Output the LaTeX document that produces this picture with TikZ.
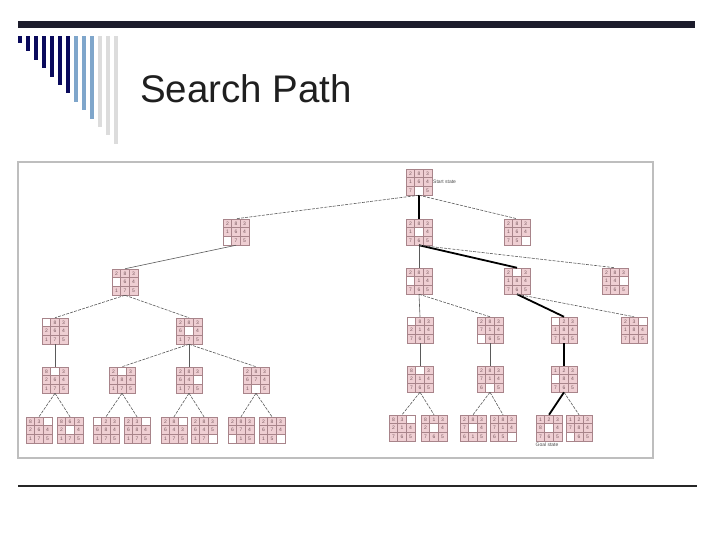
\documentclass[tikz,border=0pt]{standalone}
\usepackage{fontspec}
\setmainfont{Liberation Sans}
\definecolor{topbar}{HTML}{1C1C2C}
\definecolor{navy}{HTML}{0A0A5C}
\definecolor{lblue}{HTML}{7FA6CB}
\definecolor{lgray}{HTML}{DCDCDC}
\definecolor{framec}{HTML}{BEBEBE}
\definecolor{cellfill}{HTML}{EFCFD3}
\definecolor{cellline}{HTML}{A8848A}
\definecolor{celltext}{HTML}{7A5A60}
\definecolor{edgec}{HTML}{5A5A5A}
\tikzset{
 cell/.style={draw=cellline, fill=cellfill, minimum size=8.6pt, inner sep=0pt, line width=0.5pt, text=celltext, font=\fontsize{5}{5}\selectfont},
 blankcell/.style={cell, fill=white},
 puzbox/.style={draw=cellline, minimum size=25.8pt, inner sep=0pt, line width=0.7pt},
 tree/.style={draw=edgec, line width=0.6pt, dash pattern=on 3pt off 1.2pt},
 treev/.style={draw=edgec, line width=0.6pt},
 pathedge/.style={draw=black, line width=1.8pt},
 note/.style={font=\fontsize{5}{6}\selectfont, text=black!70, inner sep=0pt},
}
\newcommand\pz[3]{%
 \begin{scope}[shift={(#2)}]
  \foreach \v [count=\k from 0] in {#3} {
   \pgfmathtruncatemacro\rr{\k/3}
   \pgfmathtruncatemacro\cc{mod(\k,3)}
   \ifnum\v=0
     \node[blankcell] (#1-\k) at ({(\cc-1)*8.6},{(\rr-1)*8.6}) {};
   \else
     \node[cell] (#1-\k) at ({(\cc-1)*8.6},{(\rr-1)*8.6}) {\v};
   \fi
  }
  \node[puzbox] (#1) at (0,0) {};
 \end{scope}}
\begin{document}
\begin{tikzpicture}[x=1pt,y=-1pt]
\useasboundingbox (0,0) rectangle (720,540);
% slide decoration
\fill[topbar] (18,21) rectangle (695,28);
\foreach \i in {0,...,12} {
  \pgfmathsetmacro\bx{20+8*\i}
  \pgfmathsetmacro\by{43+8.4*\i}
  \ifnum\i<7 \def\bc{navy}\else\ifnum\i<10 \def\bc{lblue}\else\def\bc{lgray}\fi\fi
  \fill[\bc] ({\bx-2},36) rectangle ({\bx+2},\by);
}
\node[anchor=base west, font=\fontsize{38.5}{40}\selectfont, text=black!88, inner sep=0pt] (title) at (140,103) {Search Path};
\draw[line width=1.8pt, black!85] (18,486) -- (697,486);
% picture frame
\draw[framec, line width=1.4pt] (18,162) rectangle (653,458);
% puzzle states
\pz{s}{419,182}{2,8,3,1,6,4,7,0,5}
\pz{a1}{236,232}{2,8,3,1,6,4,0,7,5}
\pz{a2}{419,232}{2,8,3,1,0,4,7,6,5}
\pz{a3}{517,232}{2,8,3,1,6,4,7,5,0}
\pz{b1}{125,282}{2,8,3,0,6,4,1,7,5}
\pz{b2}{419,281}{2,8,3,0,1,4,7,6,5}
\pz{b3}{517,281}{2,0,3,1,8,4,7,6,5}
\pz{b4}{615,281}{2,8,3,1,4,0,7,6,5}
\pz{c1}{55,331}{0,8,3,2,6,4,1,7,5}
\pz{c2}{189,331}{2,8,3,6,0,4,1,7,5}
\pz{c3}{420,330}{0,8,3,2,1,4,7,6,5}
\pz{c4}{490,330}{2,8,3,7,1,4,0,6,5}
\pz{c5}{564,330}{0,2,3,1,8,4,7,6,5}
\pz{c6}{634,330}{2,3,0,1,8,4,7,6,5}
\pz{d1}{55,380}{8,0,3,2,6,4,1,7,5}
\pz{d2}{122,380}{2,0,3,6,8,4,1,7,5}
\pz{d3}{189,380}{2,8,3,6,4,0,1,7,5}
\pz{d4}{256,380}{2,8,3,6,7,4,1,0,5}
\pz{d5}{420,379}{8,0,3,2,1,4,7,6,5}
\pz{d6}{490,379}{2,8,3,7,1,4,6,0,5}
\pz{d7}{564,379}{1,2,3,0,8,4,7,6,5}
\pz{e1}{39,430}{8,3,0,2,6,4,1,7,5}
\pz{e2}{70,430}{8,6,3,2,0,4,1,7,5}
\pz{e3}{106,430}{0,2,3,6,8,4,1,7,5}
\pz{e4}{137,430}{2,3,0,6,8,4,1,7,5}
\pz{e5}{174,430}{2,8,0,6,4,3,1,7,5}
\pz{e6}{204,430}{2,8,3,6,4,5,1,7,0}
\pz{e7}{241,430}{2,8,3,6,7,4,0,1,5}
\pz{e8}{272,430}{2,8,3,6,7,4,1,5,0}
\pz{e9}{402,428}{8,3,0,2,1,4,7,6,5}
\pz{e10}{434,428}{8,1,3,2,0,4,7,6,5}
\pz{e11}{473,428}{2,8,3,7,0,4,6,1,5}
\pz{e12}{503,428}{2,8,3,7,1,4,6,5,0}
\pz{e13}{549,428}{1,2,3,8,0,4,7,6,5}
\pz{e14}{579,428}{1,2,3,7,8,4,0,6,5}
\node[note, anchor=west] (startlbl) at (433,182) {Start state};
\node[note, anchor=north] (goallbl) at (547,443) {Goal state};
% edges
\draw[tree] (s.south) -- (a1.north);
\draw[pathedge] (s.south) -- (a2.north);
\draw[tree] (s.south) -- (a3.north);
\draw[treev] (a1.south) -- (b1.north);
\draw[treev] (a2.south) -- (b2.north);
\draw[pathedge] (a2.south) -- (b3.north);
\draw[tree] (a2.south) -- (b4.north);
\draw[tree] (b1.south) -- (c1.north);
\draw[tree] (b1.south) -- (c2.north);
\draw[treev] (b2.south) -- (c3.north);
\draw[tree] (b2.south) -- (c4.north);
\draw[pathedge] (b3.south) -- (c5.north);
\draw[tree] (b3.south) -- (c6.north);
\draw[treev] (c1.south) -- (d1.north);
\draw[tree] (c2.south) -- (d2.north);
\draw[treev] (c2.south) -- (d3.north);
\draw[tree] (c2.south) -- (d4.north);
\draw[treev] (c3.south) -- (d5.north);
\draw[treev] (c4.south) -- (d6.north);
\draw[pathedge] (c5.south) -- (d7.north);
\draw[tree] (d1.south) -- (e1.north);
\draw[tree] (d1.south) -- (e2.north);
\draw[tree] (d2.south) -- (e3.north);
\draw[tree] (d2.south) -- (e4.north);
\draw[tree] (d3.south) -- (e5.north);
\draw[tree] (d3.south) -- (e6.north);
\draw[tree] (d4.south) -- (e7.north);
\draw[tree] (d4.south) -- (e8.north);
\draw[tree] (d5.south) -- (e9.north);
\draw[tree] (d5.south) -- (e10.north);
\draw[tree] (d6.south) -- (e11.north);
\draw[tree] (d6.south) -- (e12.north);
\draw[pathedge] (d7.south) -- (e13.north);
\draw[tree] (d7.south) -- (e14.north);
\end{tikzpicture}
\end{document}
